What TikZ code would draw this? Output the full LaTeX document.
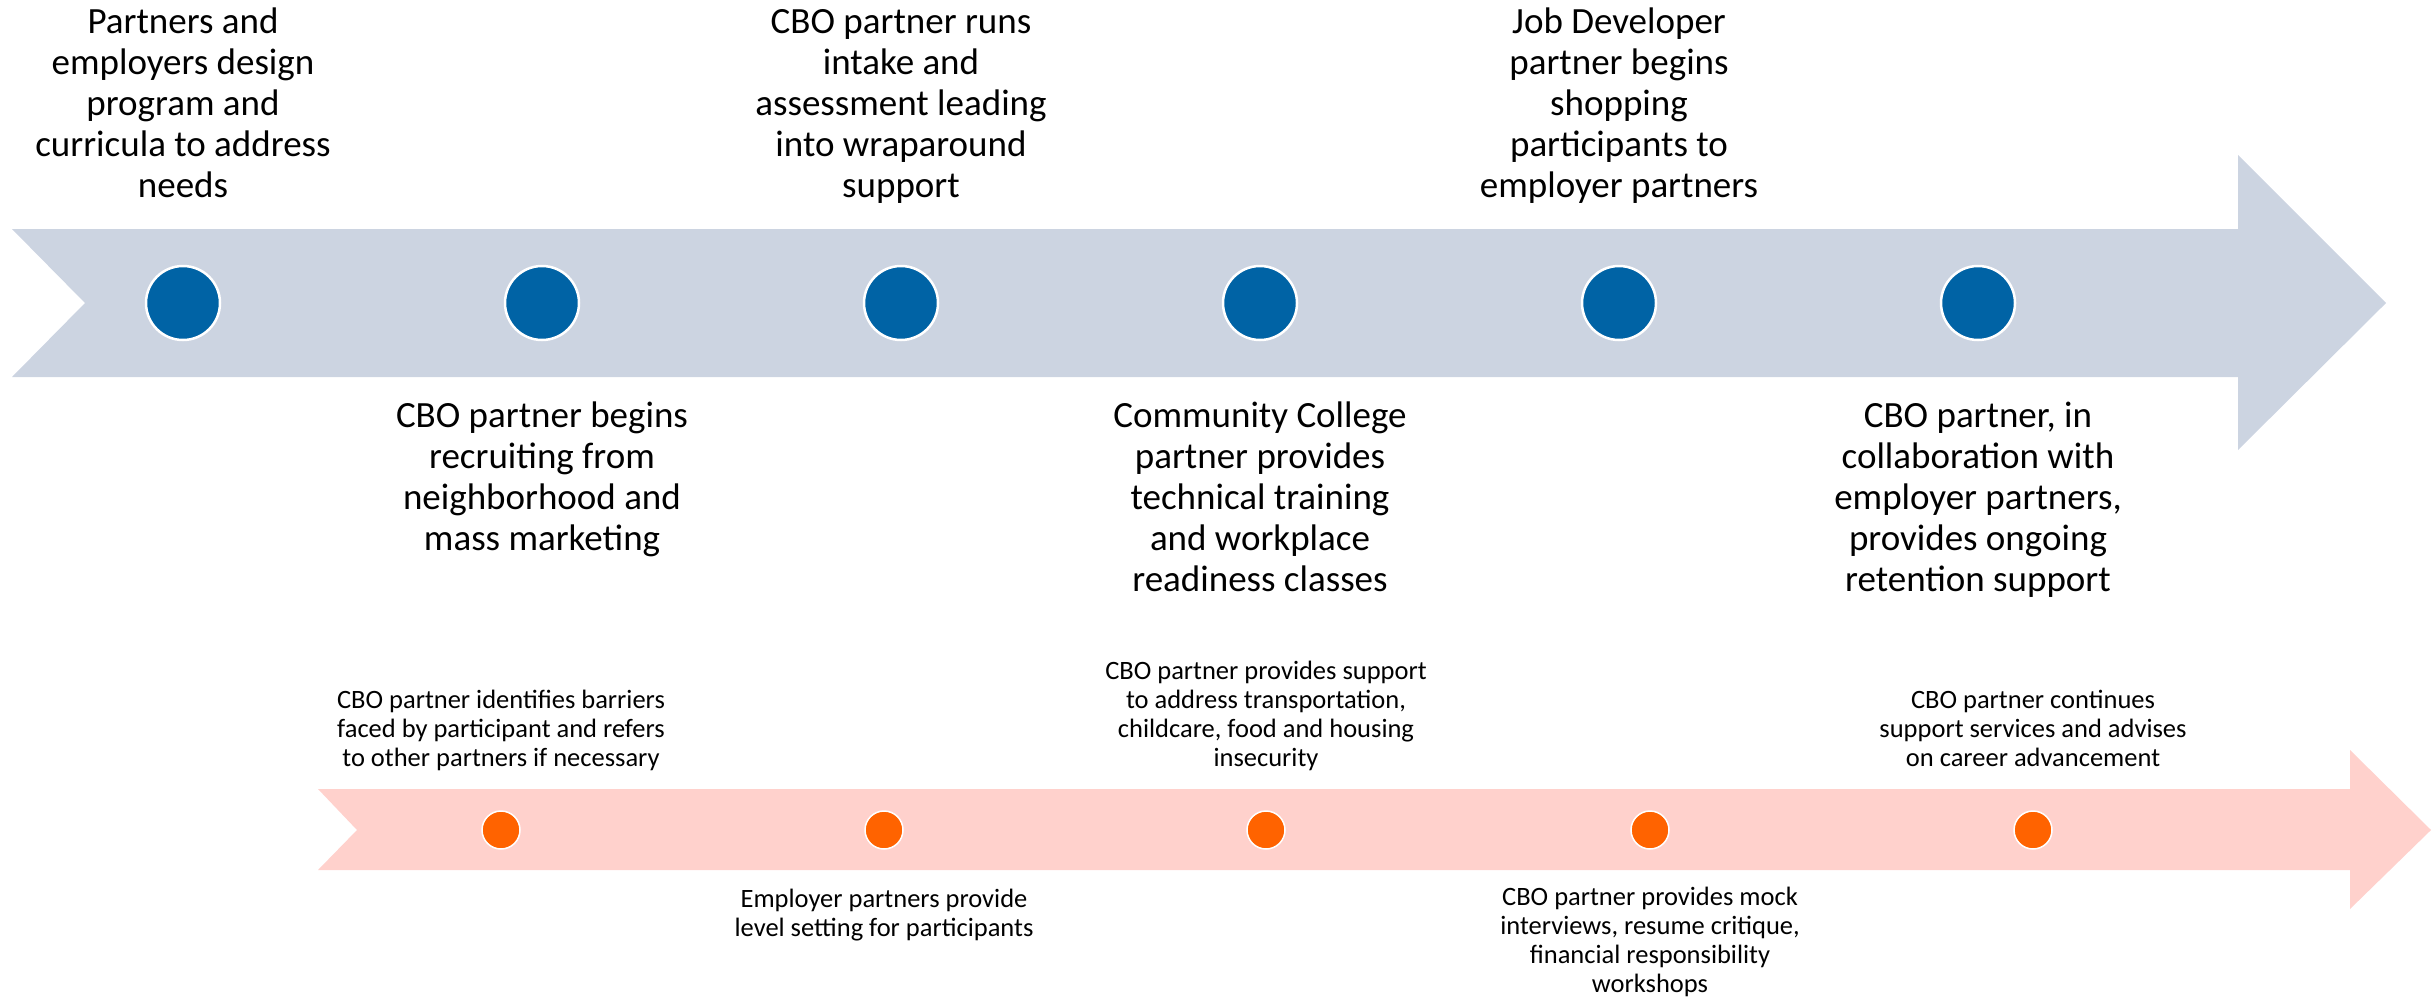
\documentclass[tikz,border=0pt]{standalone}
\usepackage{fontspec}
\setmainfont{Carlito}
\definecolor{bandblue}{RGB}{204,212,225}
\definecolor{dotblue}{RGB}{0,99,165}
\definecolor{bandpink}{RGB}{255,209,204}
\definecolor{dotorange}{RGB}{255,99,0}
\begin{document}
\begin{tikzpicture}[x=1pt,y=-1pt,
  bigtxt/.style={font=\fontsize{37}{41}\selectfont, align=center, inner sep=0pt, anchor=base},
  smalltxt/.style={font=\fontsize{26.5}{28.7}\selectfont, align=center, inner sep=0pt, anchor=base},
  bigdot/.style={circle, fill=dotblue, draw=white, line width=2.5pt, minimum size=74pt, inner sep=0pt},
  smalldot/.style={circle, fill=dotorange, draw=white, line width=1.5pt, minimum size=38pt, inner sep=0pt}]
\useasboundingbox (0,0) rectangle (2433,999);
% arrows
\fill[bandblue] (12,229) -- (2238,229) -- (2238,155) -- (2386,303) -- (2238,450) -- (2238,377) -- (12,377) -- (85,303) -- cycle;
\fill[bandpink] (318,789) -- (2350,789) -- (2350,750) -- (2431,830) -- (2350,909) -- (2350,870) -- (318,870) -- (357,830) -- cycle;
% top dots
\foreach \i/\x in {1/183,2/542,3/901,4/1260,5/1619,6/1978}
  \node[bigdot] (d\i) at (\x,303) {};
% bottom dots
\foreach \i/\x in {1/501,2/884,3/1266,4/1650,5/2033}
  \node[smalldot] (e\i) at (\x,830) {};
% top texts (anchor = baseline of last line)
\node[bigtxt] (t1) at (183,197) {Partners and\\employers design\\program and\\curricula to address\\needs};
\node[bigtxt] (t3) at (901,197) {CBO partner runs\\intake and\\assessment leading\\into wraparound\\support};
\node[bigtxt] (t5) at (1619,197) {Job Developer\\partner begins\\shopping\\participants to\\employer partners};
\node[bigtxt] (t2) at (542,550) {CBO partner begins\\recruiting from\\neighborhood and\\mass marketing};
\node[bigtxt] (t4) at (1260,591) {Community College\\partner provides\\technical training\\and workplace\\readiness classes};
\node[bigtxt] (t6) at (1978,591) {CBO partner, in\\collaboration with\\employer partners,\\provides ongoing\\retention support};
% bottom texts
\node[smalltxt] (s1) at (501,766) {CBO partner identifies barriers\\faced by participant and refers\\to other partners if necessary};
\node[smalltxt] (s3) at (1266,766) {CBO partner provides support\\to address transportation,\\childcare, food and housing\\insecurity};
\node[smalltxt] (s5) at (2033,766) {CBO partner continues\\support services and advises\\on career advancement};
\node[smalltxt] (s2) at (884,936) {Employer partners provide\\level setting for participants};
\node[smalltxt] (s4) at (1650,992) {CBO partner provides mock\\interviews, resume critique,\\financial responsibility\\workshops};
\end{tikzpicture}
\end{document}
